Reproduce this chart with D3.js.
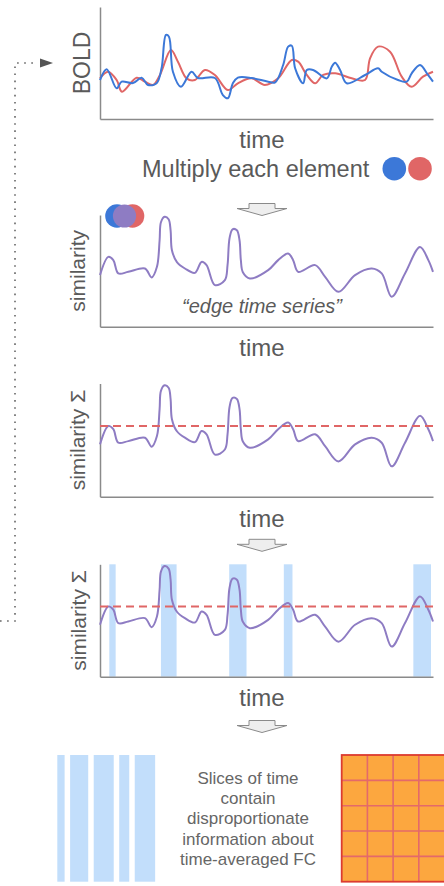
<!DOCTYPE html>
<html><head><meta charset="utf-8">
<script src="https://cdn.jsdelivr.net/npm/d3@7"></script>
<style>
html,body{margin:0;padding:0;background:#fff;}
svg{display:block;font-family:"Liberation Sans",Arial,Helvetica,sans-serif;}
</style>
</head><body>
<svg id="chart" width="444" height="886"></svg>
<script>
// ---------- DATA ----------
// BOLD signals (time 0-100, arbitrary amplitude 0-100)
const blueTime  = [0,2,5,6.5,9.9,12.5,14.4,17,18.5,19.8,20.7,21.9,24.3,27.5,29.4,34.5,36.9,38.4,39.9,41.4,45.5,50.5,52.6,55,56.5,57.6,58.6,61,62.1,64,68.1,69.6,70.6,72.1,74.1,79.6,83.5,84.6,89.5,92.1,93.6,96.1,98.5,100];
const blueValue = [34.8,44.4,27.4,33.3,32.1,36.9,30.4,31.9,45.5,75,73.5,42.2,28.8,42.2,36.6,36.6,21.4,18.5,31.9,36.9,36.6,33.3,32.8,48.2,64.6,65.4,45.3,31.9,43.8,43.8,36.3,46.7,50.3,43.8,31.9,39.3,45.3,42.2,34.8,33.3,40.8,48.2,39.3,33.3];
const redTime   = [0,2.4,5,6.6,11,13.5,15.9,18,21.3,23.4,26,28.5,31.5,34.5,38.4,41.4,45.5,49.5,53.5,57.6,59.5,62.1,64.6,67,70.6,75.6,79.6,81.1,83.5,87.1,90.6,93.6,97,100];
const redValue  = [36.3,42.2,34.8,24.4,36.9,33.3,30.4,39.3,61.6,51.2,36.3,34.8,43.8,39.3,25.9,31.9,36.3,30.4,36.3,52.7,51.2,39.3,31.9,39.3,40.8,36.3,34.8,54.2,64.6,60.1,37.8,28.8,37.8,42.2];
// edge time series (similarity)
const edgeTime  = [0,2.5,4,5.5,8.5,13.5,15.5,17.1,17.9,18.3,19.4,20.6,21.2,21.6,23.1,25.5,28.5,30.5,32,34.5,37.5,38.3,38.9,39.8,41.1,41.9,42.3,42.9,45,50.5,53.5,56.5,58,59.5,64.6,67.6,71.6,76.6,81.6,84.6,87.6,91.6,96.1,98.6,100];
const edgeValue = [46.2,62.5,59.6,47.7,49.1,52.1,44.1,53.6,77.4,93.5,98.4,96.2,86.3,68.5,57.8,52.1,48.2,58,55.1,37.2,41.7,55.1,79.2,87.2,86.3,77.4,59.6,48.8,43.2,50.6,59.6,65.5,59.6,49.1,55.1,44.6,31.2,46.2,52.1,47.7,26.8,47.7,71.4,59.6,49.1];
const threshold = 62.5;
// high-amplitude time slices
const bandStart = [2.8,18.3,38.8,55.2,94.1];
const bandEnd   = [4.7,23,44,57.8,99.4];
// texts
const captionLines = ["Slices of time","contain","disproportionate","information about","time-averaged FC"];
const matrixRows = [0,1,2,3,4];
const matrixCols = [0,1,2,3];

// ---------- STYLE / LAYOUT ----------
const C = {blue:"#3c78d8", red:"#e06666", purple:"#8e7cc3", band:"#c2defb",
           text:"#5a5a5a", axis:"#8a8a8a", orange:"#fca73f", grid:"#e4696a", border:"#dc3b30"};
const X0 = 100, X1 = 433;
const svg = d3.select("#chart");
const x = d3.scaleLinear().domain([0,100]).range([X0, X1]);

function panel(top, bottom){
  const y = d3.scaleLinear().domain([0,100]).range([bottom, top]);
  const g = svg.append("g");
  g.append("g").attr("transform",`translate(0,${bottom})`)
    .call(d3.axisBottom(x).tickValues([]).tickSizeOuter(0))
    .call(s=>s.select(".domain").attr("stroke",C.axis).attr("stroke-width",1.5));
  g.append("g").attr("transform",`translate(${X0},0)`)
    .call(d3.axisLeft(y).tickValues([]).tickSizeOuter(0))
    .call(s=>s.select(".domain").attr("stroke",C.axis).attr("stroke-width",1.5));
  return {g, y, top, bottom};
}
function series(p, ts, vs, color){
  const line = d3.line().x(d=>x(d[0])).y(d=>p.y(d[1])).curve(d3.curveCatmullRom.alpha(0.5));
  p.g.append("path").datum(d3.zip(ts, vs)).attr("d", line)
    .attr("fill","none").attr("stroke",color).attr("stroke-width",2).attr("stroke-linejoin","round");
}
function ylabel(p, txt, size, bx){
  svg.append("text").attr("transform",`translate(${bx},${(p.top+p.bottom)/2}) rotate(-90)`)
    .attr("text-anchor","middle").attr("fill",C.text).attr("font-size",size).text(txt);
}
function timeLabel(base){
  svg.append("text").attr("x",262).attr("y",base).attr("text-anchor","middle")
    .attr("fill",C.text).attr("font-size",24).text("time");
}
function arrow(cx, top){
  const p = d3.path();
  p.moveTo(cx-13,top); p.lineTo(cx+13,top); p.lineTo(cx+13,top+5); p.lineTo(cx+25,top+5);
  p.lineTo(cx,top+12); p.lineTo(cx-25,top+5); p.lineTo(cx-13,top+5); p.closePath();
  svg.append("path").attr("d",p.toString()).attr("fill","#eeeeee").attr("stroke","#8a8a8a").attr("stroke-width",1);
}
function thresholdLine(p){
  p.g.append("line").attr("x1",X0).attr("x2",X1+4).attr("y1",p.y(threshold)).attr("y2",p.y(threshold))
    .attr("stroke",C.red).attr("stroke-width",2).attr("stroke-dasharray","8,5");
}

// dotted feedback connector
svg.append("path").attr("d","M0,621H15V63H38").attr("fill","none").attr("stroke","#666")
  .attr("stroke-width",1.6).attr("stroke-dasharray","1.6,5.5");
svg.append("path").attr("d","M40,58.5L53,63L40,67.5Z").attr("fill","#555");

// ---- Panel 1: BOLD ----
const p1 = panel(7,119);
series(p1, redTime, redValue, C.red);
series(p1, blueTime, blueValue, C.blue);
ylabel(p1, "BOLD", 23, 90);
timeLabel(148);
svg.append("text").attr("x",142).attr("y",177).attr("fill",C.text).attr("font-size",23.5).text("Multiply each element");
svg.append("circle").attr("cx",394.3).attr("cy",168.7).attr("r",11.8).attr("fill",C.blue);
svg.append("circle").attr("cx",420).attr("cy",168.7).attr("r",11.8).attr("fill",C.red);

// ---- Panel 2: edge time series ----
arrow(262, 203.5);
const p2 = panel(215,326.7);
series(p2, edgeTime, edgeValue, C.purple);
svg.append("circle").attr("cx",117).attr("cy",216).attr("r",11.8).attr("fill",C.blue);
svg.append("circle").attr("cx",132.5).attr("cy",216).attr("r",11.8).attr("fill",C.red);
svg.append("circle").attr("cx",124.5).attr("cy",216).attr("r",11.6).attr("fill",C.purple);
ylabel(p2, "similarity", 21, 85);
svg.append("text").attr("x",262).attr("y",313).attr("text-anchor","middle").attr("fill",C.text)
  .attr("font-size",20).attr("font-style","italic").text("\u201Cedge time series\u201D");
timeLabel(356);

// ---- Panel 3: sum + threshold ----
const p3 = panel(383.5,496.7);
series(p3, edgeTime, edgeValue, C.purple);
thresholdLine(p3);
ylabel(p3, "similarity \u03A3", 21, 85);
timeLabel(526.5);

// ---- Panel 4: highlighted slices ----
arrow(262, 539.3);
const p4 = panel(564.3,676.7);
p4.g.insert("g", ":first-child").selectAll("rect").data(d3.zip(bandStart, bandEnd)).join("rect")
  .attr("x",d=>x(d[0])).attr("width",d=>x(d[1])-x(d[0]))
  .attr("y",p4.top).attr("height",p4.bottom-p4.top).attr("fill",C.band);
series(p4, edgeTime, edgeValue, C.purple);
thresholdLine(p4);
ylabel(p4, "similarity \u03A3", 21, 86);
timeLabel(705.5);

// ---- Bottom: slices, caption, FC matrix ----
arrow(262, 720.5);
const sliceW = d3.scaleLinear().domain([0,1]).range([0,3.85]);
let cursor = 57.3;
const slices = d3.zip(bandStart, bandEnd).map(d=>{ const w = sliceW(d[1]-d[0]); const r = {x:cursor, w}; cursor += w + 5.5; return r; });
svg.append("g").selectAll("rect").data(slices).join("rect")
  .attr("x",d=>d.x).attr("width",d=>d.w).attr("y",755).attr("height",126.7).attr("fill",C.band);

svg.append("g").selectAll("text").data(captionLines).join("text")
  .attr("x",248).attr("y",(d,i)=>784+i*20.2).attr("text-anchor","middle")
  .attr("fill","#666").attr("font-size",17).text(d=>d);

const mx = d3.scaleBand().domain(matrixCols).range([341.7, 444.5]);
const my = d3.scaleBand().domain(matrixRows).range([755, 881.7]);
const mg = svg.append("g");
mg.append("rect").attr("x",341.7).attr("y",755).attr("width",106).attr("height",126.7).attr("fill",C.orange);
mg.selectAll("line.v").data(matrixCols.slice(1)).join("line").attr("class","v")
  .attr("x1",d=>mx(d)).attr("x2",d=>mx(d)).attr("y1",755).attr("y2",881.7)
  .attr("stroke",C.grid).attr("stroke-width",1.6);
mg.selectAll("line.h").data(matrixRows.slice(1)).join("line").attr("class","h")
  .attr("y1",d=>my(d)).attr("y2",d=>my(d)).attr("x1",341.7).attr("x2",446)
  .attr("stroke",C.grid).attr("stroke-width",1.6);
mg.append("rect").attr("x",341.7).attr("y",755).attr("width",106).attr("height",126.7)
  .attr("fill","none").attr("stroke",C.border).attr("stroke-width",1.8);
</script>
</body></html>
